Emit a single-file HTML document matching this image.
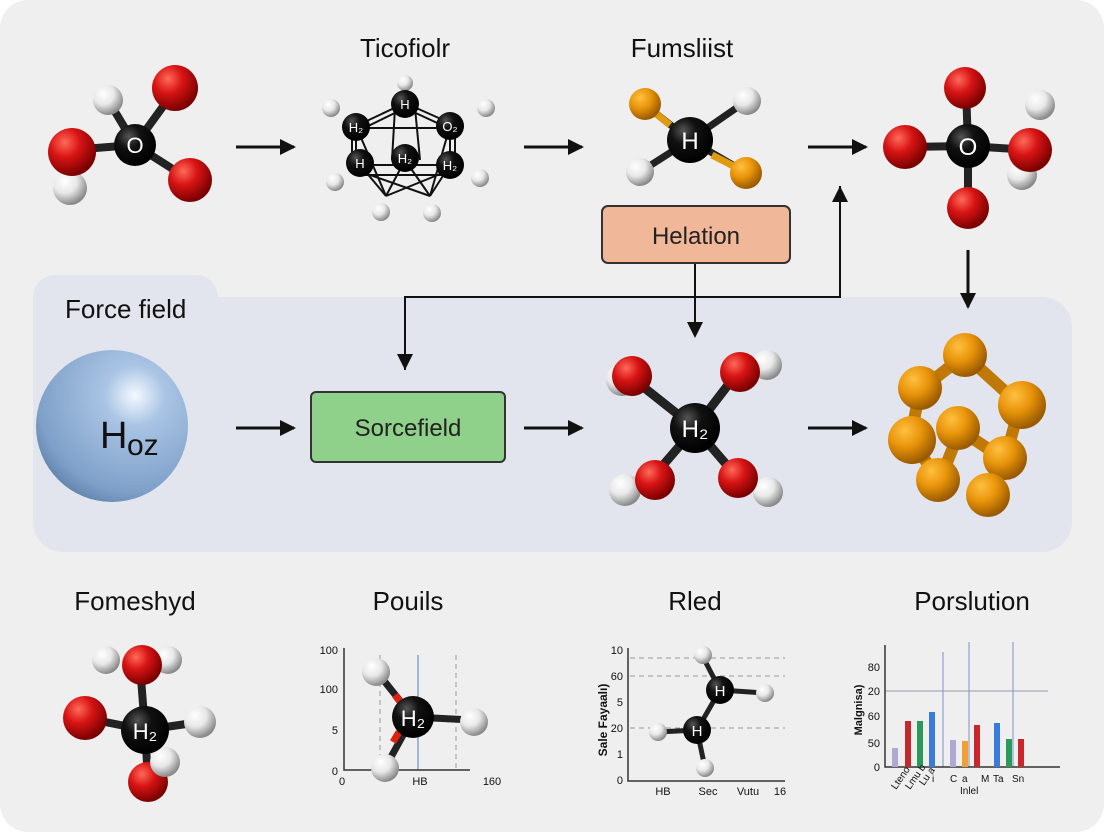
<!DOCTYPE html>
<html><head><meta charset="utf-8"><style>
html,body{margin:0;padding:0;background:#fff}
svg{display:block}
text{font-family:"Liberation Sans",sans-serif}
</style></head><body>
<svg width="1104" height="832" viewBox="0 0 1104 832" xmlns="http://www.w3.org/2000/svg">
<defs>
<radialGradient id="r" cx="35%" cy="30%" r="70%"><stop offset="0" stop-color="#ff6a5a"/><stop offset="0.45" stop-color="#d81414"/><stop offset="1" stop-color="#7a0000"/></radialGradient>
<radialGradient id="w" cx="35%" cy="30%" r="70%"><stop offset="0" stop-color="#ffffff"/><stop offset="0.5" stop-color="#e8e8e8"/><stop offset="1" stop-color="#8a8a8a"/></radialGradient>
<radialGradient id="k" cx="35%" cy="30%" r="70%"><stop offset="0" stop-color="#555"/><stop offset="0.4" stop-color="#111"/><stop offset="1" stop-color="#000"/></radialGradient>
<radialGradient id="o" cx="35%" cy="30%" r="70%"><stop offset="0" stop-color="#ffc040"/><stop offset="0.5" stop-color="#e8940a"/><stop offset="1" stop-color="#9a5a00"/></radialGradient>
<radialGradient id="b" cx="65%" cy="30%" r="80%"><stop offset="0" stop-color="#f4f8ff"/><stop offset="0.25" stop-color="#a9c4e4"/><stop offset="0.8" stop-color="#7ea0c8"/><stop offset="1" stop-color="#5a7aa2"/></radialGradient>
<marker id="a" markerWidth="10" markerHeight="10" refX="8" refY="5" orient="auto" markerUnits="userSpaceOnUse"><path d="M0,0 L10,5 L0,10 z" fill="#111"/></marker>
<marker id="a2" markerWidth="18" markerHeight="18" refX="14" refY="9" orient="auto" markerUnits="userSpaceOnUse"><path d="M0,1 L16,9 L0,17 z" fill="#111"/></marker>
</defs>
<rect x="0" y="0" width="1104" height="832" rx="28" fill="#efefef"/>
<!-- band -->
<rect x="33" y="275" width="185" height="80" rx="22" fill="#e2e5ee"/>
<rect x="33" y="297" width="1039" height="255" rx="30" fill="#e2e5ee"/>
<text x="65" y="318" font-size="26" fill="#111">Force field</text>
<!-- titles -->
<text x="405" y="57" font-size="26" text-anchor="middle" fill="#111">Ticofiolr</text>
<text x="682" y="57" font-size="26" text-anchor="middle" fill="#111">Fumsliist</text>
<text x="135" y="610" font-size="26" text-anchor="middle" fill="#111">Fomeshyd</text>
<text x="408" y="610" font-size="26" text-anchor="middle" fill="#111">Pouils</text>
<text x="695" y="610" font-size="26" text-anchor="middle" fill="#111">Rled</text>
<text x="972" y="610" font-size="26" text-anchor="middle" fill="#111">Porslution</text>
<!-- arrows -->
<g stroke="#111" stroke-width="3" fill="none">
<line x1="236" y1="147" x2="294" y2="147" marker-end="url(#a2)"/>
<line x1="524" y1="147" x2="582" y2="147" marker-end="url(#a2)"/>
<line x1="808" y1="147" x2="866" y2="147" marker-end="url(#a2)"/>
<line x1="236" y1="428" x2="294" y2="428" marker-end="url(#a2)"/>
<line x1="524" y1="428" x2="582" y2="428" marker-end="url(#a2)"/>
<line x1="808" y1="428" x2="866" y2="428" marker-end="url(#a2)"/>
<line x1="968" y1="250" x2="968" y2="307" marker-end="url(#a2)"/>
<line x1="695" y1="263" x2="695" y2="336" stroke-width="2" marker-end="url(#a2)"/>
<polyline points="405,370 405,297 840,297 840,186" stroke-width="2"/>
</g>
<path d="M397,354 L405,370 L413,354 z" fill="#111"/>
<path d="M832,202 L840,186 L848,202 z" fill="#111"/>
<!-- boxes -->
<rect x="602" y="206" width="188" height="57" rx="6" fill="#f0b898" stroke="#333" stroke-width="2"/>
<text x="696" y="244" font-size="24" text-anchor="middle" fill="#222">Helation</text>
<rect x="311" y="392" width="194" height="70" rx="5" fill="#8fd08a" stroke="#333" stroke-width="2"/>
<text x="408" y="436" font-size="24" text-anchor="middle" fill="#222">Sorcefield</text>
<!-- big sphere -->
<circle cx="112" cy="426" r="76" fill="url(#b)"/>
<text x="100" y="448" font-size="38" fill="#111">H</text><text x="127" y="455" font-size="30" fill="#111">oz</text>
<!-- top-left molecule -->
<g stroke="#222" stroke-width="8">
<line x1="135" y1="145" x2="175" y2="90"/><line x1="135" y1="145" x2="70" y2="150"/><line x1="135" y1="145" x2="190" y2="180"/><line x1="135" y1="145" x2="108" y2="100"/><line x1="70" y1="150" x2="70" y2="188"/>
</g>
<circle cx="108" cy="100" r="15" fill="url(#w)"/>
<circle cx="70" cy="188" r="17" fill="url(#w)"/>
<circle cx="175" cy="88" r="23" fill="url(#r)"/>
<circle cx="72" cy="152" r="24" fill="url(#r)"/>
<circle cx="190" cy="180" r="22" fill="url(#r)"/>
<circle cx="135" cy="145" r="21" fill="url(#k)"/>
<text x="135" y="153" font-size="22" fill="#fff" text-anchor="middle">O</text>
<!-- cage molecule -->
<g stroke="#111" stroke-width="2" fill="none">
<line x1="356" y1="126" x2="405" y2="103"/><line x1="358" y1="131" x2="405" y2="108"/>
<line x1="405" y1="103" x2="450" y2="123"/><line x1="405" y1="108" x2="448" y2="128"/>
<line x1="356" y1="126" x2="356" y2="162"/><line x1="352" y1="128" x2="352" y2="160"/>
<line x1="450" y1="125" x2="450" y2="162"/><line x1="455" y1="128" x2="455" y2="160"/>
<line x1="356" y1="128" x2="450" y2="128"/><line x1="356" y1="165" x2="450" y2="165"/>
<line x1="356" y1="175" x2="450" y2="175"/>
<line x1="356" y1="126" x2="386" y2="196"/><line x1="450" y1="126" x2="430" y2="196"/>
<line x1="360" y1="165" x2="386" y2="196"/><line x1="405" y1="160" x2="386" y2="196"/><line x1="405" y1="160" x2="430" y2="196"/><line x1="450" y1="165" x2="430" y2="196"/><line x1="386" y1="196" x2="450" y2="170"/><line x1="356" y1="170" x2="430" y2="196"/>
<line x1="395" y1="108" x2="392" y2="160"/><line x1="415" y1="108" x2="420" y2="160"/>
</g>
<g fill="url(#w)"><circle cx="331" cy="108" r="9"/><circle cx="486" cy="108" r="9"/><circle cx="335" cy="182" r="9"/><circle cx="480" cy="178" r="9"/><circle cx="381" cy="212" r="9"/><circle cx="432" cy="213" r="9"/><circle cx="405" cy="83" r="8"/></g>
<g fill="url(#k)"><circle cx="405" cy="104" r="14"/><circle cx="356" cy="127" r="14"/><circle cx="450" cy="126" r="14"/><circle cx="360" cy="163" r="14"/><circle cx="405" cy="158" r="14"/><circle cx="450" cy="165" r="14"/></g>
<g fill="#fff" font-size="13" text-anchor="middle"><text x="405" y="109">H</text><text x="356" y="132">H₂</text><text x="450" y="131">O₂</text><text x="360" y="168">H</text><text x="405" y="163">H₂</text><text x="450" y="170">H₂</text></g>
<!-- fumsliist molecule -->
<g stroke="#222" stroke-width="7"><line x1="690" y1="140" x2="645" y2="105"/><line x1="690" y1="140" x2="745" y2="102"/><line x1="690" y1="140" x2="640" y2="172"/><line x1="690" y1="140" x2="745" y2="172"/></g>
<g stroke="#e09a10" stroke-width="7"><line x1="670" y1="125" x2="645" y2="105"/><line x1="712" y1="155" x2="745" y2="172"/></g>
<circle cx="645" cy="104" r="16" fill="url(#o)"/><circle cx="746" cy="173" r="16" fill="url(#o)"/>
<circle cx="747" cy="101" r="14" fill="url(#w)"/><circle cx="640" cy="172" r="14" fill="url(#w)"/>
<circle cx="690" cy="140" r="23" fill="url(#k)"/>
<text x="690" y="149" font-size="24" fill="#fff" text-anchor="middle">H</text>
<!-- top right molecule -->
<g stroke="#222" stroke-width="8"><line x1="968" y1="146" x2="966" y2="88"/><line x1="968" y1="146" x2="905" y2="147"/><line x1="968" y1="146" x2="1030" y2="150"/><line x1="968" y1="146" x2="968" y2="208"/></g>
<circle cx="1040" cy="105" r="15" fill="url(#w)"/><circle cx="1022" cy="175" r="15" fill="url(#w)"/>
<g fill="url(#r)"><circle cx="965" cy="88" r="21"/><circle cx="905" cy="147" r="22"/><circle cx="1030" cy="150" r="22"/><circle cx="968" cy="208" r="21"/></g>
<circle cx="968" cy="146" r="22" fill="url(#k)"/>
<text x="968" y="155" font-size="24" fill="#fff" text-anchor="middle">O</text>
<!-- middle molecule -->
<g stroke="#222" stroke-width="9"><line x1="695" y1="428" x2="632" y2="378"/><line x1="695" y1="428" x2="738" y2="372"/><line x1="695" y1="428" x2="652" y2="478"/><line x1="695" y1="428" x2="738" y2="478"/></g>
<g fill="url(#w)"><circle cx="622" cy="380" r="16"/><circle cx="767" cy="365" r="15"/><circle cx="625" cy="490" r="16"/><circle cx="768" cy="492" r="15"/></g>
<g fill="url(#r)"><circle cx="632" cy="376" r="20"/><circle cx="740" cy="372" r="20"/><circle cx="655" cy="480" r="20"/><circle cx="738" cy="478" r="20"/></g>
<circle cx="695" cy="428" r="25" fill="url(#k)"/>
<text x="695" y="437" font-size="24" fill="#fff" text-anchor="middle">H₂</text>
<!-- orange cluster -->
<g stroke="#c07806" stroke-width="12"><line x1="965" y1="355" x2="920" y2="390"/><line x1="965" y1="355" x2="1020" y2="405"/><line x1="920" y1="390" x2="910" y2="440"/><line x1="1020" y1="405" x2="1005" y2="460"/><line x1="910" y1="440" x2="940" y2="480"/><line x1="1005" y1="460" x2="985" y2="495"/><line x1="960" y1="430" x2="940" y2="480"/><line x1="960" y1="430" x2="1005" y2="460"/></g>
<g fill="url(#o)"><circle cx="965" cy="355" r="22"/><circle cx="920" cy="388" r="22"/><circle cx="1022" cy="405" r="24"/><circle cx="912" cy="440" r="24"/><circle cx="958" cy="428" r="22"/><circle cx="1005" cy="458" r="22"/><circle cx="938" cy="480" r="22"/><circle cx="988" cy="495" r="22"/></g>
<!-- bottom-left molecule -->
<g stroke="#222" stroke-width="8"><line x1="145" y1="730" x2="140" y2="665"/><line x1="145" y1="730" x2="85" y2="718"/><line x1="145" y1="730" x2="148" y2="780"/><line x1="145" y1="730" x2="200" y2="722"/><line x1="145" y1="730" x2="165" y2="762"/></g>
<g fill="url(#w)"><circle cx="106" cy="660" r="14"/><circle cx="168" cy="660" r="14"/><circle cx="200" cy="722" r="16"/></g>
<g fill="url(#r)"><circle cx="142" cy="665" r="20"/><circle cx="85" cy="718" r="22"/><circle cx="148" cy="782" r="20"/></g>
<circle cx="165" cy="762" r="15" fill="url(#w)"/>
<circle cx="145" cy="730" r="24" fill="url(#k)"/>
<text x="145" y="739" font-size="22" fill="#fff" text-anchor="middle">H₂</text>
<!-- chart 1 -->
<g stroke="#999" stroke-dasharray="5,4" stroke-width="1"><line x1="380" y1="655" x2="380" y2="770"/><line x1="456" y1="655" x2="456" y2="770"/></g>
<line x1="418" y1="655" x2="418" y2="770" stroke="#5a7ec0" stroke-width="1"/>
<polyline points="344,648 344,770 470,770" fill="none" stroke="#333" stroke-width="1.5"/>
<g font-size="11" fill="#111" text-anchor="end"><text x="338" y="654">100</text><text x="338" y="693">100</text><text x="338" y="734">5</text><text x="338" y="775">0</text></g>
<g font-size="11" fill="#111" text-anchor="middle"><text x="342" y="785">0</text><text x="420" y="785">HB</text><text x="492" y="785">160</text></g>
<g stroke="#222" stroke-width="7"><line x1="413" y1="717" x2="377" y2="672"/><line x1="413" y1="717" x2="472" y2="720"/><line x1="413" y1="717" x2="385" y2="768"/></g>
<g stroke="#d21" stroke-width="7"><line x1="395" y1="695" x2="401" y2="703"/><line x1="393" y1="742" x2="399" y2="732"/></g>
<g fill="url(#w)"><circle cx="376" cy="672" r="14"/><circle cx="474" cy="722" r="14"/><circle cx="385" cy="768" r="14"/></g>
<circle cx="413" cy="717" r="21" fill="url(#k)"/>
<text x="413" y="726" font-size="22" fill="#fff" text-anchor="middle">H₂</text>
<!-- chart 2 -->
<g stroke="#999" stroke-dasharray="5,4" stroke-width="1"><line x1="630" y1="658" x2="785" y2="658"/><line x1="630" y1="676" x2="785" y2="676"/><line x1="630" y1="728" x2="785" y2="728"/></g>
<polyline points="628,648 628,781 785,781" fill="none" stroke="#333" stroke-width="1.5"/>
<g font-size="11" fill="#111" text-anchor="end"><text x="623" y="654">10</text><text x="623" y="680">60</text><text x="623" y="706">5</text><text x="623" y="732">20</text><text x="623" y="758">1</text><text x="623" y="784">0</text></g>
<g font-size="11" fill="#111" text-anchor="middle"><text x="663" y="795">HB</text><text x="708" y="795">Sec</text><text x="748" y="795">Vutu</text><text x="780" y="795">16</text></g>
<text x="0" y="0" font-size="12" font-weight="bold" fill="#111" transform="translate(607,720) rotate(-90)" text-anchor="middle">Sale Fayaalı)</text>
<g stroke="#222" stroke-width="5"><line x1="720" y1="690" x2="703" y2="657"/><line x1="720" y1="690" x2="765" y2="693"/><line x1="720" y1="690" x2="697" y2="730"/><line x1="697" y1="730" x2="658" y2="732"/><line x1="697" y1="730" x2="705" y2="768"/></g>
<g fill="url(#w)"><circle cx="703" cy="655" r="9"/><circle cx="765" cy="693" r="9"/><circle cx="658" cy="732" r="9"/><circle cx="705" cy="768" r="9"/></g>
<circle cx="720" cy="690" r="14" fill="url(#k)"/><circle cx="697" cy="730" r="14" fill="url(#k)"/>
<text x="720" y="696" font-size="15" fill="#fff" text-anchor="middle">H</text><text x="697" y="736" font-size="15" fill="#fff" text-anchor="middle">H</text>
<!-- chart 3 -->
<g stroke="#7890c8" stroke-width="1"><line x1="943" y1="652" x2="943" y2="767"/><line x1="969" y1="642" x2="969" y2="767"/><line x1="1013" y1="642" x2="1013" y2="767"/></g>
<line x1="885" y1="691" x2="1048" y2="691" stroke="#99a" stroke-width="1"/>
<polyline points="885,645 885,767 1060,767" fill="none" stroke="#333" stroke-width="1.5"/>
<g font-size="11" fill="#111" text-anchor="end"><text x="880" y="671">80</text><text x="880" y="695">20</text><text x="880" y="720">60</text><text x="880" y="747">50</text><text x="880" y="771">0</text></g>
<text x="0" y="0" font-size="11" font-weight="bold" fill="#111" transform="translate(862,710) rotate(-90)" text-anchor="middle">Malgnisa)</text>
<g><rect x="892" y="748" width="6" height="19" fill="#b0a8d0"/><rect x="905" y="721" width="6" height="46" fill="#c8282c"/><rect x="917" y="721" width="6" height="46" fill="#2a9a5a"/><rect x="929" y="712" width="6" height="55" fill="#3a7ad8"/><rect x="950" y="740" width="6" height="27" fill="#b0a8d0"/><rect x="962" y="741" width="6" height="26" fill="#f0a030"/><rect x="974" y="725" width="6" height="42" fill="#c8282c"/><rect x="994" y="723" width="6" height="44" fill="#3a7ad8"/><rect x="1006" y="739" width="6" height="28" fill="#2a9a5a"/><rect x="1018" y="739" width="6" height="28" fill="#c8282c"/></g>
<g font-size="10" fill="#111"><text transform="translate(896,790) rotate(-55)">Lteno</text><text transform="translate(910,790) rotate(-55)">Lmu b</text><text transform="translate(924,786) rotate(-55)">Lu a</text><text x="932" y="782">i</text><text x="950" y="782">C</text><text x="962" y="782">a</text><text x="981" y="782">M</text><text x="993" y="782">Ta</text><text x="1012" y="782">Sn</text><text x="960" y="794">Inlel</text></g>
</svg>
</body></html>
